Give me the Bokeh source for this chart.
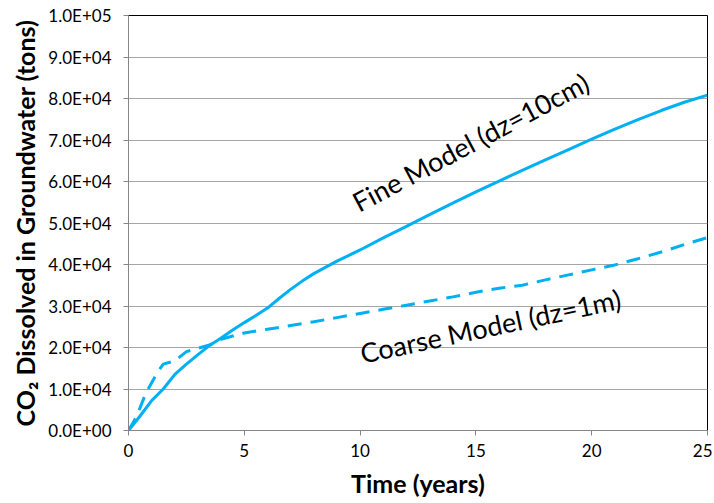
from bokeh.plotting import figure
from bokeh.models import FixedTicker, Label, Range1d
from bokeh.embed import file_html
from bokeh.resources import INLINE
import math

# Data
fine_t = [0, 0.5, 1, 1.5, 2, 2.5, 3, 3.5, 4, 4.5, 5, 5.5, 6, 6.5, 7, 7.5, 8, 9, 10,
          11, 12, 13, 14, 15, 16, 17, 18, 19, 20, 21, 22, 23, 24, 25]
fine_v = [0, 3500, 7200, 10000, 13500, 16000, 18300, 20500, 22300, 24200, 26000,
          27700, 29500, 31800, 34000, 36000, 37800, 40800, 43500, 46400, 49200,
          52000, 54800, 57500, 60100, 62700, 65200, 67700, 70200, 72600, 74900,
          77100, 79100, 80800]

coarse_t = [0, 0.25, 0.5, 0.75, 1, 1.25, 1.5, 2, 2.5, 3, 3.5, 4, 5, 6, 7, 8, 9, 10,
            11, 12, 13, 14, 15, 16, 17, 18, 19, 20, 21, 22, 23, 24, 25]
coarse_v = [0, 2400, 5500, 9000, 11500, 14000, 16000, 16800, 19000, 19800, 20600,
            22000, 23500, 24400, 25300, 26200, 27200, 28200, 29200, 30200, 31200,
            32200, 33300, 34300, 35000, 36300, 37500, 38700, 39900, 41400, 43000,
            44800, 46500]

x_ticks = [0, 5, 10, 15, 20, 25]
y_ticks = [0, 10000, 20000, 30000, 40000, 50000, 60000, 70000, 80000, 90000, 100000]
y_tick_labels = ["0.0E+00", "1.0E+04", "2.0E+04", "3.0E+04", "4.0E+04", "5.0E+04",
                 "6.0E+04", "7.0E+04", "8.0E+04", "9.0E+04", "1.0E+05"]

FONT = "Lato"
BLUE = "#00b0f0"
AXIS_GRAY = "#868686"

p = figure(width=712, height=502, output_backend="svg", toolbar_location=None,
           x_range=Range1d(0, 25), y_range=Range1d(0, 100000))
p.min_border_left = 128
p.min_border_right = 5
p.min_border_top = 15
p.min_border_bottom = 72

p.outline_line_color = "black"
p.outline_line_width = 1
p.background_fill_color = "white"
p.border_fill_color = "white"

p.line(fine_t, fine_v, line_color=BLUE, line_width=3)
p.line(coarse_t, coarse_v, line_color=BLUE, line_width=3, line_dash="14 9")

p.xaxis.ticker = FixedTicker(ticks=x_ticks)
p.yaxis.ticker = FixedTicker(ticks=y_ticks)
p.yaxis.major_label_overrides = {t: l for t, l in zip(y_ticks, y_tick_labels)}

for ax in (p.xaxis, p.yaxis):
    ax.axis_line_color = AXIS_GRAY
    ax.major_tick_line_color = AXIS_GRAY
    ax.major_tick_out = 5
    ax.major_tick_in = 0
    ax.minor_tick_line_color = None
    ax.major_label_text_font = FONT
    ax.major_label_text_font_size = "17px"
    ax.major_label_text_color = "black"
    ax.axis_label_text_font = FONT
    ax.axis_label_text_font_size = "25px"
    ax.axis_label_text_font_style = "bold"
    ax.axis_label_text_color = "black"

p.xaxis.axis_label = "Time (years)"
p.yaxis.axis_label = "CO\u2082 Dissolved in Groundwater (tons)"
p.xaxis.major_label_standoff = 8
p.yaxis.major_label_standoff = 12
p.xaxis.axis_label_standoff = 8
p.yaxis.axis_label_standoff = 5

p.xgrid.grid_line_color = None
p.ygrid.grid_line_color = "#a6a6a6"
p.ygrid.grid_line_width = 1

p.add_layout(Label(x=14.77, y=69500, text="Fine Model (dz=10cm)", angle=math.radians(28),
                   text_align="center", text_baseline="middle", text_font=FONT,
                   text_font_size="27px", text_color="black"))
p.add_layout(Label(x=15.63, y=25200, text="Coarse Model (dz=1m)", angle=math.radians(12),
                   text_align="center", text_baseline="middle", text_font=FONT,
                   text_font_size="27px", text_color="black"))

open("out.html", "w").write(file_html(p, INLINE))
